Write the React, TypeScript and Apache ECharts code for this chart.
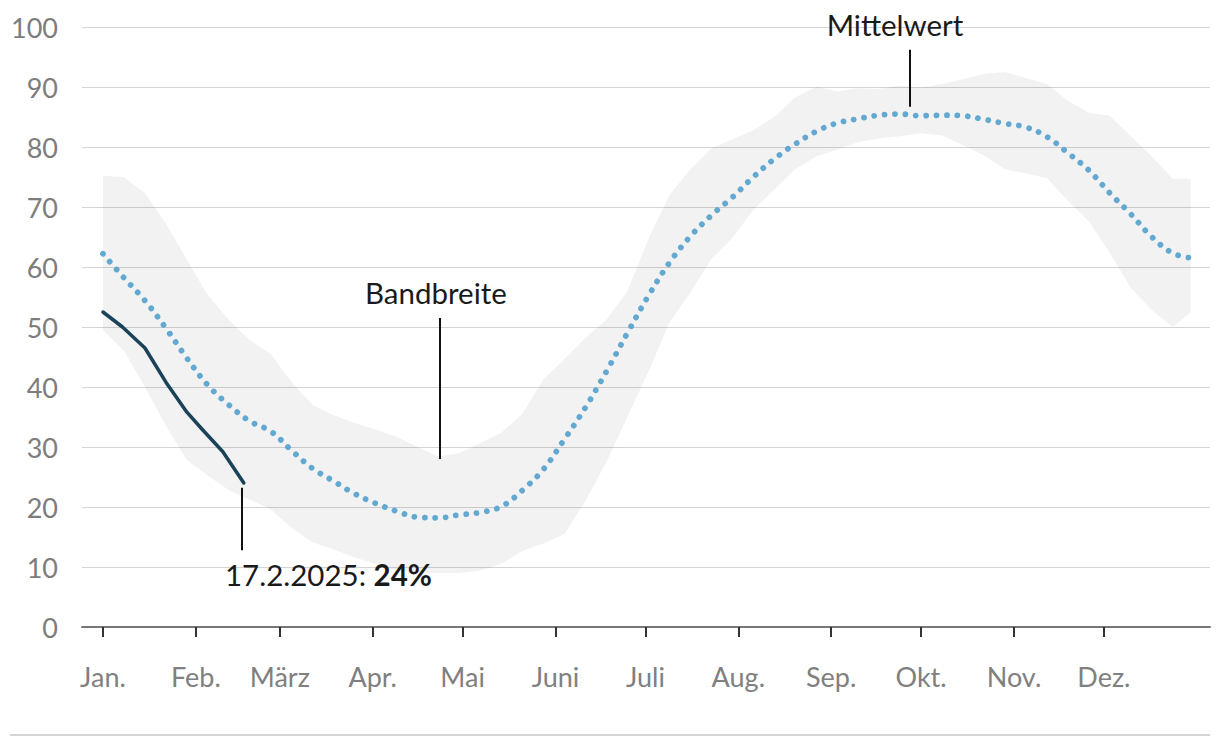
import React, { useEffect, useRef } from "react";
import * as echarts from "echarts";

const MONTH_LABELS = ["Jan.", "Feb.", "März", "Apr.", "Mai", "Juni", "Juli", "Aug.", "Sep.", "Okt.", "Nov.", "Dez."];
const MONTH_DAYS = [0, 31, 59, 90, 120, 151, 181, 212, 243, 273, 304, 334];
const Y_TICKS = [0, 10, 20, 30, 40, 50, 60, 70, 80, 90, 100];

// day of year for the band / mean series (weekly)
const DAYS = [
  0, 7, 14, 21, 28, 35, 42, 49, 56, 63, 70, 77, 84, 91, 98, 105, 112, 119, 126, 133, 140, 147, 154, 161, 168,
  175, 182, 189, 196, 203, 210, 217, 224, 231, 238, 245, 252, 259, 266, 273, 280, 287, 294, 301, 308, 315, 322,
  329, 336, 343, 350, 357, 363,
];
const BAND_HIGH = [
  75.2, 75, 72.3, 67.3, 61.2, 55.3, 51.2, 47.8, 45.5, 40.8, 37, 35.3, 34, 32.9, 31.7, 30, 28.4, 29, 30.7, 32.4,
  35.6, 41.3, 44.7, 48.2, 51.2, 56, 64.7, 72, 76.3, 79.8, 81.3, 82.8, 85, 88.3, 90, 89.3, 89.8, 89.7, 90.2, 89.9,
  90.5, 91.3, 92.2, 92.5, 91.5, 90.5, 87.7, 85.7, 85.2, 81.8, 78.4, 74.7, 74.7,
];
const BAND_LOW = [
  49.5, 46, 40, 33.5, 27.8, 25.2, 22.8, 21.2, 19.6, 16.5, 14.1, 12.9, 11.6, 10.5, 9.5, 9.1, 9, 9, 9.4, 10.5,
  12.7, 13.9, 15.5, 21, 27.5, 35, 42.5, 50.7, 55.7, 61.3, 64.8, 69.5, 72.9, 76.3, 78.4, 79.6, 80.8, 81.4, 81.8,
  82.3, 81.9, 80.3, 78.6, 76.3, 75.6, 74.8, 71, 67.6, 62.3, 56.5, 52.8, 50, 52.5,
];
const MEAN = [
  62.2, 58.2, 54.4, 49.8, 44.8, 40.3, 37, 34.3, 32.6, 29.4, 26.4, 24.3, 22.2, 20.6, 19.3, 18.3, 18.2, 18.7, 19.1,
  20.1, 22.8, 26.3, 31.3, 36.6, 42.6, 49, 55.2, 60.7, 65.1, 68.6, 71.6, 75, 78, 80.5, 82.6, 84, 84.7, 85.3, 85.5,
  85.2, 85.3, 85.2, 84.6, 83.9, 83.3, 81.7, 79, 76.1, 72.3, 68.8, 65, 62.3, 61.5,
];

// 2025 actual values
const ACTUAL_DAYS = [0, 6.5, 14, 21, 28, 33, 40, 47];
const ACTUAL = [52.5, 50, 46.5, 40.8, 35.8, 33, 29.2, 24];

const FONT = "Lato, 'Noto Sans', sans-serif";

export default function App() {
  const ref = useRef<HTMLDivElement>(null);

  useEffect(() => {
    const chart = echarts.init(ref.current!, null, { renderer: "svg" });
    const pairs = (xs: number[], ys: number[]) => xs.map((d, i) => [d, ys[i]]);
    const bandRows = DAYS.map((d, i) => [d, BAND_LOW[i], BAND_HIGH[i]]);

    chart.setOption({
      animation: false,
      backgroundColor: "#ffffff",
      grid: { left: 82, right: 10, top: 27, bottom: 119, containLabel: false },
      xAxis: {
        type: "value",
        min: -7,
        max: 369.4,
        splitLine: { show: false },
        axisLine: { show: true, lineStyle: { color: "#777777", width: 2 } },
        axisTick: {
          show: true,
          customValues: MONTH_DAYS,
          length: 10,
          lineStyle: { color: "#333333", width: 2 },
        },
        axisLabel: {
          customValues: MONTH_DAYS,
          formatter: (v: number) => {
            const i = MONTH_DAYS.indexOf(v);
            return i >= 0 ? MONTH_LABELS[i] : "";
          },
          color: "#808080",
          fontFamily: FONT,
          fontSize: 27,
          margin: 36,
        },
      },
      yAxis: {
        type: "value",
        min: 0,
        max: 100,
        interval: 10,
        axisLine: { show: false },
        axisTick: { show: false },
        splitLine: { show: true, lineStyle: { color: "#d4d4d4", width: 1 } },
        axisLabel: {
          color: "#7d7d7d",
          fontFamily: FONT,
          fontSize: 27,
          margin: 24,
          formatter: (v: number) => (Y_TICKS.includes(v) ? String(v) : ""),
        },
      },
      series: [
        {
          type: "custom",
          name: "Bandbreite",
          data: bandRows,
          silent: true,
          z: 1,
          encode: { x: 0, y: [1, 2] },
          renderItem: (params: any, api: any) => {
            if (params.dataIndex !== 0) return null;
            const upper = bandRows.map((r) => api.coord([r[0], r[2]]));
            const lower = bandRows.map((r) => api.coord([r[0], r[1]])).reverse();
            return {
              type: "polygon",
              shape: { points: upper.concat(lower) },
              style: { fill: "rgba(0,0,0,0.052)", stroke: "none" },
            };
          },
        },
        {
          type: "line",
          name: "Mittelwert",
          data: pairs(DAYS, MEAN),
          symbol: "none",
          smooth: 0.4,
          z: 3,
          lineStyle: { color: "#62a8d1", width: 5.8, type: [0.01, 10.4], cap: "round" },
          markLine: {
            silent: true,
            symbol: "none",
            label: { show: false },
            lineStyle: { color: "#111111", width: 2, type: "solid" },
            data: [
              [{ coord: [269.3, 96.2] }, { coord: [269.3, 86.7] }],
              [{ coord: [112.4, 51.5] }, { coord: [112.4, 28] }],
              [{ coord: [46.4, 23.2] }, { coord: [46.4, 12.8] }],
            ],
          },
        },
        {
          type: "line",
          name: "2025",
          data: pairs(ACTUAL_DAYS, ACTUAL),
          symbol: "none",
          z: 4,
          lineStyle: { color: "#1a4258", width: 3.5, cap: "round", join: "round" },
        },
      ],
    });

    const px = (x: number, y: number) => chart.convertToPixel({ gridIndex: 0 }, [x, y]) as number[];
    const mw = px(264.3, 100.5);
    const bb = px(111.1, 55.7);
    const dt = px(40.7, 8.7);

    chart.setOption({
      graphic: [
        {
          type: "text",
          x: mw[0],
          y: mw[1],
          style: {
            text: "Mittelwert",
            fill: "#1a1a1a",
            font: `29.5px ${FONT}`,
            align: "center",
            verticalAlign: "middle",
          },
        },
        {
          type: "text",
          x: bb[0],
          y: bb[1],
          style: {
            text: "Bandbreite",
            fill: "#1a1a1a",
            font: `29.5px ${FONT}`,
            align: "center",
            verticalAlign: "middle",
          },
        },
        {
          type: "text",
          x: dt[0],
          y: dt[1],
          style: {
            text: "{a|17.2.2025: }{b|24%}",
            align: "left",
            verticalAlign: "middle",
            rich: {
              a: { fill: "#1a1a1a", fontFamily: FONT, fontSize: 29.5 },
              b: { fill: "#1a1a1a", fontFamily: FONT, fontSize: 29.5, fontWeight: "bold" },
            },
          },
        },
        {
          type: "line",
          shape: { x1: 10, y1: 735, x2: 1210, y2: 735 },
          style: { stroke: "#d4d4d4", lineWidth: 2 },
        },
      ],
    });

    return () => chart.dispose();
  }, []);

  return <div ref={ref} style={{ position: "absolute", left: 0, top: 0, width: 1220, height: 746 }} />;
}
